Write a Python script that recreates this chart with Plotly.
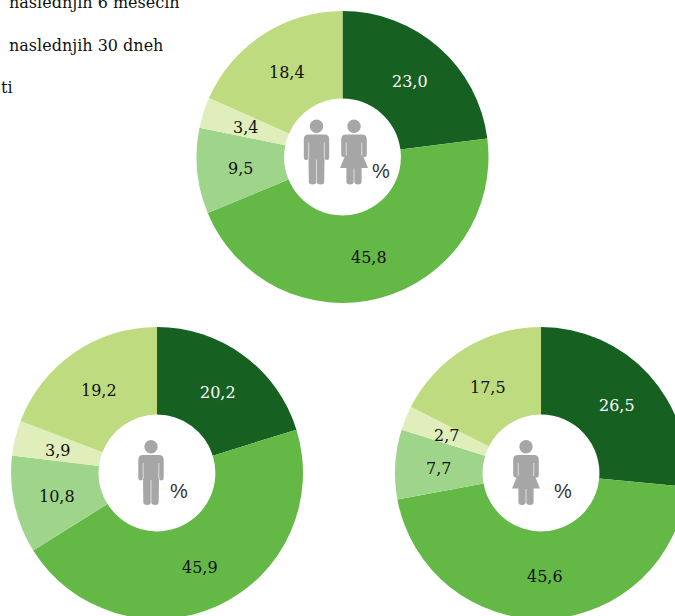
import math
import plotly.graph_objects as go

W, H = 700, 640
LABELS = ["v naslednjih 30 dneh", "v naslednjih 6 mesecih", "kasneje", "ne vem", "nikoli"]
COLORS = ["#166022", "#63b846", "#9fd58b", "#dfeebb", "#bfdb80"]
TEXT_COLORS = ["#ffffff", "#111111", "#111111", "#111111", "#111111"]
TOTAL = [23.0, 45.8, 9.5, 3.4, 18.4]
MEN = [20.2, 45.9, 10.8, 3.9, 19.2]
WOMEN = [26.5, 45.6, 7.7, 2.7, 17.5]
LEGEND_TEXT = ["naslednjih 6 mesecih", "naslednjih 30 dneh", "ti"]
SERIF = "DejaVu Serif"
GREY = "#a6a6a6"
R = 146
HOLE = 0.4


def px(x):
    return x / W


def py(y):
    return 1 - y / H


fig = go.Figure()
ann = []
for values, (cx, cy) in [(TOTAL, (342.5, 157)), (MEN, (157, 473)), (WOMEN, (541, 473))]:
    fig.add_trace(go.Pie(
        values=values, labels=LABELS, sort=False, direction="clockwise", rotation=0,
        hole=HOLE, marker=dict(colors=COLORS, line=dict(width=0)),
        textinfo="none",
        domain=dict(x=[px(cx - R), px(cx + R)], y=[py(cy + R), py(cy - R)]),
        showlegend=False, hoverinfo="skip",
    ))
    # value labels sit at the middle of each ring segment
    total = sum(values)
    run = 0
    mid_r = R * (1 + HOLE) / 2
    for v, col in zip(values, TEXT_COLORS):
        a = 2 * math.pi * (run + v / 2) / total
        run += v
        ann.append(dict(text=f"{v:.1f}".replace(".", ","), xref="paper", yref="paper",
                        x=px(cx + mid_r * math.sin(a)), y=py(cy - mid_r * math.cos(a) + 1.5),
                        xanchor="center", yanchor="middle", showarrow=False,
                        font=dict(family=SERIF, size=16, color=col)))


def path(points, ox, oy):
    out = []
    for cmd, coords in points:
        vals = [f"{px(ox + coords[i])},{py(oy + coords[i + 1])}" for i in range(0, len(coords), 2)]
        out.append(cmd + " ".join(vals))
    return " ".join(out) + " Z"


MAN = [("M", (-8, 15)), ("L", (8, 15)), ("Q", (12.7, 15, 12.7, 20)), ("L", (12.7, 38)),
       ("Q", (12.7, 40.5, 10.4, 40.5)), ("Q", (8, 40.5, 8, 38)), ("L", (7.7, 62)),
       ("Q", (7.7, 65, 4, 65)), ("Q", (0.3, 65, 0, 62)), ("Q", (-0.3, 65, -4, 65)),
       ("Q", (-7.7, 65, -7.7, 62)), ("L", (-8, 38)), ("Q", (-8, 40.5, -10.4, 40.5)),
       ("Q", (-12.7, 40.5, -12.7, 38)), ("L", (-12.7, 20)), ("Q", (-12.7, 15, -8, 15))]
WOMAN = [("M", (-8, 15)), ("L", (8, 15)), ("Q", (12.8, 15, 12.8, 20)), ("L", (12.8, 35)),
         ("Q", (12.8, 37.5, 10.6, 37.5)), ("L", (9.5, 37.5)), ("L", (14, 48.5)), ("L", (7.6, 48.5)),
         ("L", (7.6, 62)), ("Q", (7.6, 65, 4, 65)), ("Q", (0.4, 65, 0, 62)), ("Q", (-0.4, 65, -4, 65)),
         ("Q", (-7.6, 65, -7.6, 62)), ("L", (-7.6, 48.5)), ("L", (-14, 48.5)), ("L", (-9.5, 37.5)),
         ("L", (-10.6, 37.5)), ("Q", (-12.8, 37.5, -12.8, 35)), ("L", (-12.8, 20)), ("Q", (-12.8, 15, -8, 15))]


def line(x0, y0, x1, y1, w=0.9):
    return dict(type="line", xref="paper", yref="paper", x0=px(x0), y0=py(y0), x1=px(x1), y1=py(y1),
                line=dict(color="#e4e4e4", width=w))


def person(body, ox, oy, arm_end, leg_start):
    r = 6.7
    return [
        dict(type="circle", xref="paper", yref="paper", x0=px(ox - r), x1=px(ox + r), y0=py(oy + 2 * r), y1=py(oy),
             fillcolor=GREY, line=dict(width=0)),
        dict(type="path", xref="paper", yref="paper", path=path(body, ox, oy), fillcolor=GREY, line=dict(width=0)),
        line(ox - 7.8, oy + 23, ox - 7.8, oy + arm_end),
        line(ox + 7.8, oy + 23, ox + 7.8, oy + arm_end),
        line(ox, oy + leg_start, ox, oy + 63),
    ]


shapes = []
shapes += person(MAN, 316.5, 119.5, 39, 40)
shapes += person(WOMAN, 354, 119.5, 36, 49)
shapes += person(MAN, 151, 440, 39, 40)
shapes += person(WOMAN, 526, 440, 36, 49)

for txt, x, y in [(LEGEND_TEXT[0], 6.5, 2), (LEGEND_TEXT[1], 6.5, 45), (LEGEND_TEXT[2], -1, 87)]:
    ann.append(dict(text=txt, xref="paper", yref="paper", x=px(x), y=py(y), xanchor="left", yanchor="middle",
                    showarrow=False, font=dict(family=SERIF, size=16, color="#111111")))
for x, y in [(381, 171), (179, 491), (563, 491)]:
    ann.append(dict(text="%", xref="paper", yref="paper", x=px(x), y=py(y), xanchor="center", yanchor="middle",
                    showarrow=False, font=dict(family="Liberation Sans", size=20, color="#333333")))

fig.update_layout(width=W, height=H, autosize=False, margin=dict(l=0, r=0, t=0, b=0), paper_bgcolor="#ffffff",
                  shapes=shapes, annotations=ann)
fig.write_html("out.html", config=dict(displayModeBar=False),
               post_script="document.body.style.margin='0';document.body.style.overflow='hidden';document.documentElement.style.overflow='hidden';")
